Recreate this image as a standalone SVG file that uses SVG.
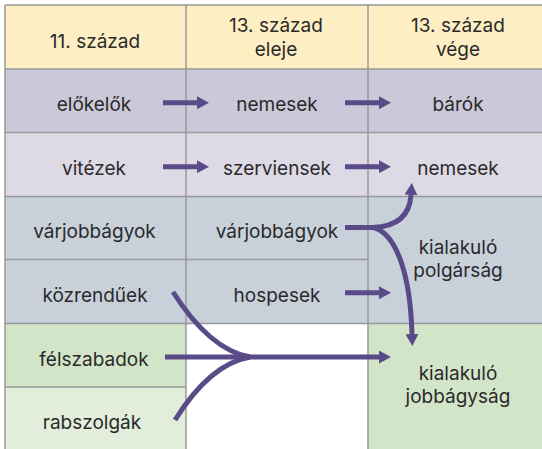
<svg xmlns="http://www.w3.org/2000/svg" width="542" height="449" viewBox="0 0 542 449">
<defs>
<style>
.t{font-family:Inter,"Open Sans","Liberation Sans",sans-serif;font-size:19px;fill:#2a2a2a;text-anchor:middle}
.g{stroke:#999;stroke-width:1.5;fill:none}
.a{stroke:#584b87;stroke-width:5;fill:none}
.hd{fill:#fdeec3}.r1{fill:#cbc8d9}.r2{fill:#dddae6}.r3{fill:#c8d0da}.gr{fill:#d3e5c9}.lg{fill:#e2eddb}.wh{fill:#fff}
</style>
<marker id="ah" viewBox="0 0 12 13" refX="0" refY="6.5" markerWidth="12" markerHeight="13" markerUnits="userSpaceOnUse" orient="auto">
<path d="M0,0 L12,6.5 L0,13 z" fill="#584b87"/>
</marker>
</defs>
<rect width="542" height="449" fill="#fff"/>
<g id="cells">
<rect class="hd" x="5" y="5" width="545" height="64"/>
<rect class="r1" x="5" y="69" width="545" height="63.5"/>
<rect class="r2" x="5" y="132.5" width="545" height="64"/>
<rect class="r3" x="5" y="196.5" width="545" height="127"/>
<rect class="gr" x="5" y="323.5" width="181" height="63.5"/>
<rect class="lg" x="5" y="387" width="181" height="70"/>
<rect class="wh" x="186" y="323.5" width="182" height="130"/>
<rect class="gr" x="368" y="323.5" width="182" height="130"/>
</g>
<g id="grid">
<path class="g" d="M5,5 V455 M186,5 V455 M368,5 V455 M5,5 H550 M5,69 H550 M5,132.5 H550 M5,196.5 H550 M5,259.5 H368 M5,323.5 H550 M5,387 H186"/>
</g>
<g id="header">
<text class="t" x="95" y="48">11. század</text>
<text class="t" x="276" y="32">13. század</text>
<text class="t" x="276" y="55.5">eleje</text>
<text class="t" x="458" y="32">13. század</text>
<text class="t" x="458" y="55.5">vége</text>
</g>
<g id="n-elokelok"><text class="t" x="94" y="111">előkelők</text></g>
<g id="n-nemesek1"><text class="t" x="277" y="111">nemesek</text></g>
<g id="n-barok"><text class="t" x="458" y="111">bárók</text></g>
<g id="n-vitezek"><text class="t" x="94" y="174.5">vitézek</text></g>
<g id="n-szerviensek"><text class="t" x="277" y="174.5">szerviensek</text></g>
<g id="n-nemesek2"><text class="t" x="458" y="174.5">nemesek</text></g>
<g id="n-varjobbagyok1"><text class="t" x="94.5" y="238.3">várjobbágyok</text></g>
<g id="n-varjobbagyok2"><text class="t" x="277" y="238.3">várjobbágyok</text></g>
<g id="n-kozrenduek"><text class="t" x="95" y="301.5">közrendűek</text></g>
<g id="n-hospesek"><text class="t" x="277" y="301.5">hospesek</text></g>
<g id="n-polgarsag"><text class="t" x="458" y="253.5">kialakuló</text><text class="t" x="458" y="277">polgárság</text></g>
<g id="n-felszabadok"><text class="t" x="94" y="365.5">félszabadok</text></g>
<g id="n-rabszolgak"><text class="t" x="92" y="429">rabszolgák</text></g>
<g id="n-jobbagysag"><text class="t" x="458" y="379.5">kialakuló</text><text class="t" x="458" y="403">jobbágyság</text></g>
<g id="connectors">
<path class="a" d="M163,102.7 H197" marker-end="url(#ah)"/>
<path class="a" d="M345,102.7 H379" marker-end="url(#ah)"/>
<path class="a" d="M163,166.7 H197" marker-end="url(#ah)"/>
<path class="a" d="M345,166.7 H379" marker-end="url(#ah)"/>
<path class="a" d="M345,292.7 H379" marker-end="url(#ah)"/>
<path class="a" d="M165,357 H379" marker-end="url(#ah)"/>
<path class="a" d="M173,292 Q210,350 250,357"/>
<path class="a" d="M175,420 Q210,364 250,357"/>
<path class="a" d="M345,227.5 H373 Q409,226 411,195" marker-end="url(#ah)"/>
<path class="a" d="M373,227.5 C393,232 410,266 412,334" marker-end="url(#ah)"/>
</g>
</svg>
